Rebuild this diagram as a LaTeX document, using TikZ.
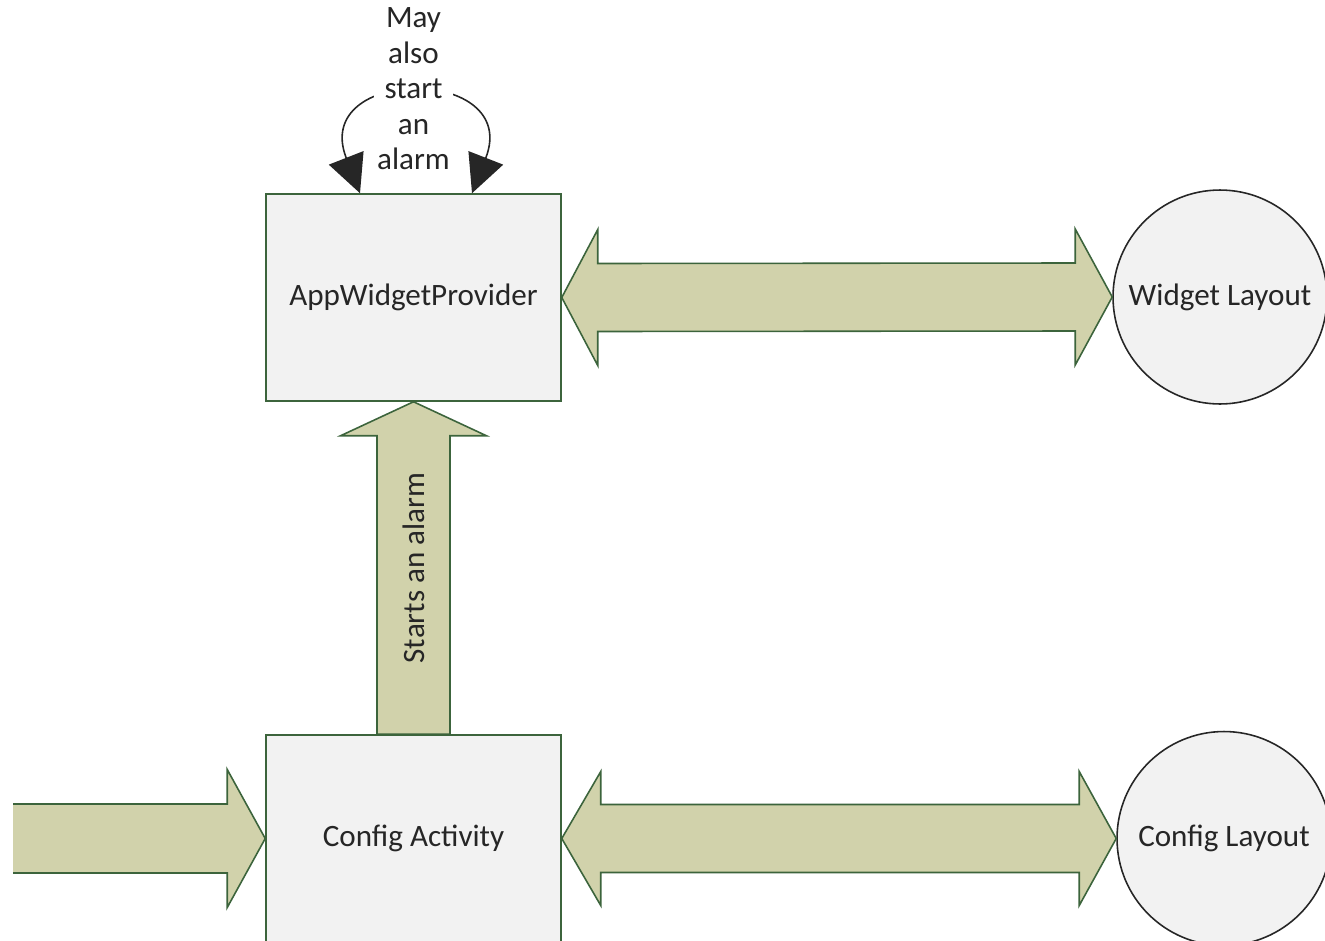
\documentclass[tikz,border=0pt]{standalone}
\usepackage{fontspec}
\setmainfont{Carlito}
\usetikzlibrary{calc,arrows.meta}
\definecolor{boxfill}{HTML}{F2F2F2}
\definecolor{boxline}{HTML}{3C643C}
\definecolor{arrowfill}{HTML}{D1D2AB}
\definecolor{txt}{HTML}{262626}

\begin{document}
\begin{tikzpicture}[x=0.02cm,y=-0.02cm,
  every node/.style={font=\fontsize{17.7}{20.2}\selectfont, text=txt},
  block/.style={draw=boxline, line width=0.9pt, fill=boxfill,
    minimum width=5.9cm, minimum height=4.14cm},
  layout/.style={circle, draw=black!85, line width=0.9pt, fill=boxfill,
    minimum size=4.28cm, inner sep=1pt},
  bigarrow/.style={draw=boxline, line width=0.9pt, fill=arrowfill, line join=miter},
  loopline/.style={draw=black!85, line width=0.9pt,
    {Triangle[length=0.76cm,width=0.74cm]}-{Triangle[length=0.76cm,width=0.74cm]}}]
\path[use as bounding box, clip] (0,0) rectangle (1325,940);

% components
\node[block] (prov) at (413.5,297.5) {AppWidgetProvider};
\node[block] (cfg) at (413.5,838.5) {Config Activity};
\node[layout] (wlay) at (1220,297) {Widget Layout};
\node[layout] (clay) at (1224,838.5) {Config Layout};
\coordinate (cin) at (13,838.5);

% provider <-> widget layout
\draw[bigarrow] (prov.east) -- ($(prov.east)+(36,-68)$) -- ($(prov.east)+(36,-34)$)
  -- ($(wlay.west)+(-37,-34)$) -- ($(wlay.west)+(-37,-68)$) -- (wlay.west)
  -- ($(wlay.west)+(-37,68)$) -- ($(wlay.west)+(-37,34)$)
  -- ($(prov.east)+(36,34)$) -- ($(prov.east)+(36,68)$) -- cycle;

% config activity <-> config layout
\draw[bigarrow] (cfg.east) -- ($(cfg.east)+(39,-67)$) -- ($(cfg.east)+(39,-34)$)
  -- ($(clay.west)+(-37,-34)$) -- ($(clay.west)+(-37,-67)$) -- (clay.west)
  -- ($(clay.west)+(-37,67)$) -- ($(clay.west)+(-37,34)$)
  -- ($(cfg.east)+(39,34)$) -- ($(cfg.east)+(39,67)$) -- cycle;

% config activity -> provider
\draw[bigarrow] (prov.south) -- ($(prov.south)+(73,34)$) -- ($(prov.south)+(36.5,34)$)
  -- ($(cfg.north)+(36.5,0)$) -- ($(cfg.north)+(-36.5,0)$)
  -- ($(prov.south)+(-36.5,34)$) -- ($(prov.south)+(-73,34)$) -- cycle;
\node[rotate=90] (upl) at ($(prov.south)!0.5!(cfg.north)$) {Starts an alarm};

% incoming arrow, open at its tail
\fill[arrowfill] ($(cin)+(0,-34.5)$) -- ($(cfg.west)+(-38,-34.5)$) -- ($(cfg.west)+(-38,-69)$)
  -- (cfg.west) -- ($(cfg.west)+(-38,69)$) -- ($(cfg.west)+(-38,34.5)$)
  -- ($(cin)+(0,34.5)$) -- cycle;
\draw[bigarrow, fill=none] ($(cin)+(0,-34.5)$) -- ($(cfg.west)+(-38,-34.5)$) -- ($(cfg.west)+(-38,-69)$)
  -- (cfg.west) -- ($(cfg.west)+(-38,69)$) -- ($(cfg.west)+(-38,34.5)$)
  -- ($(cin)+(0,34.5)$);

% self loop on the provider
\coordinate (pl) at ($(prov.north)+(-53.5,0)$);
\coordinate (pr) at ($(prov.north)+(58.5,0)$);
\draw[loopline] (pl) .. controls +(-50,-128) and +(50,-128) .. (pr);
\node[fill=white, align=center, inner sep=2pt] (loopl) at (413.5,89) {May\\also\\start\\an\\alarm};
\end{tikzpicture}
\end{document}
